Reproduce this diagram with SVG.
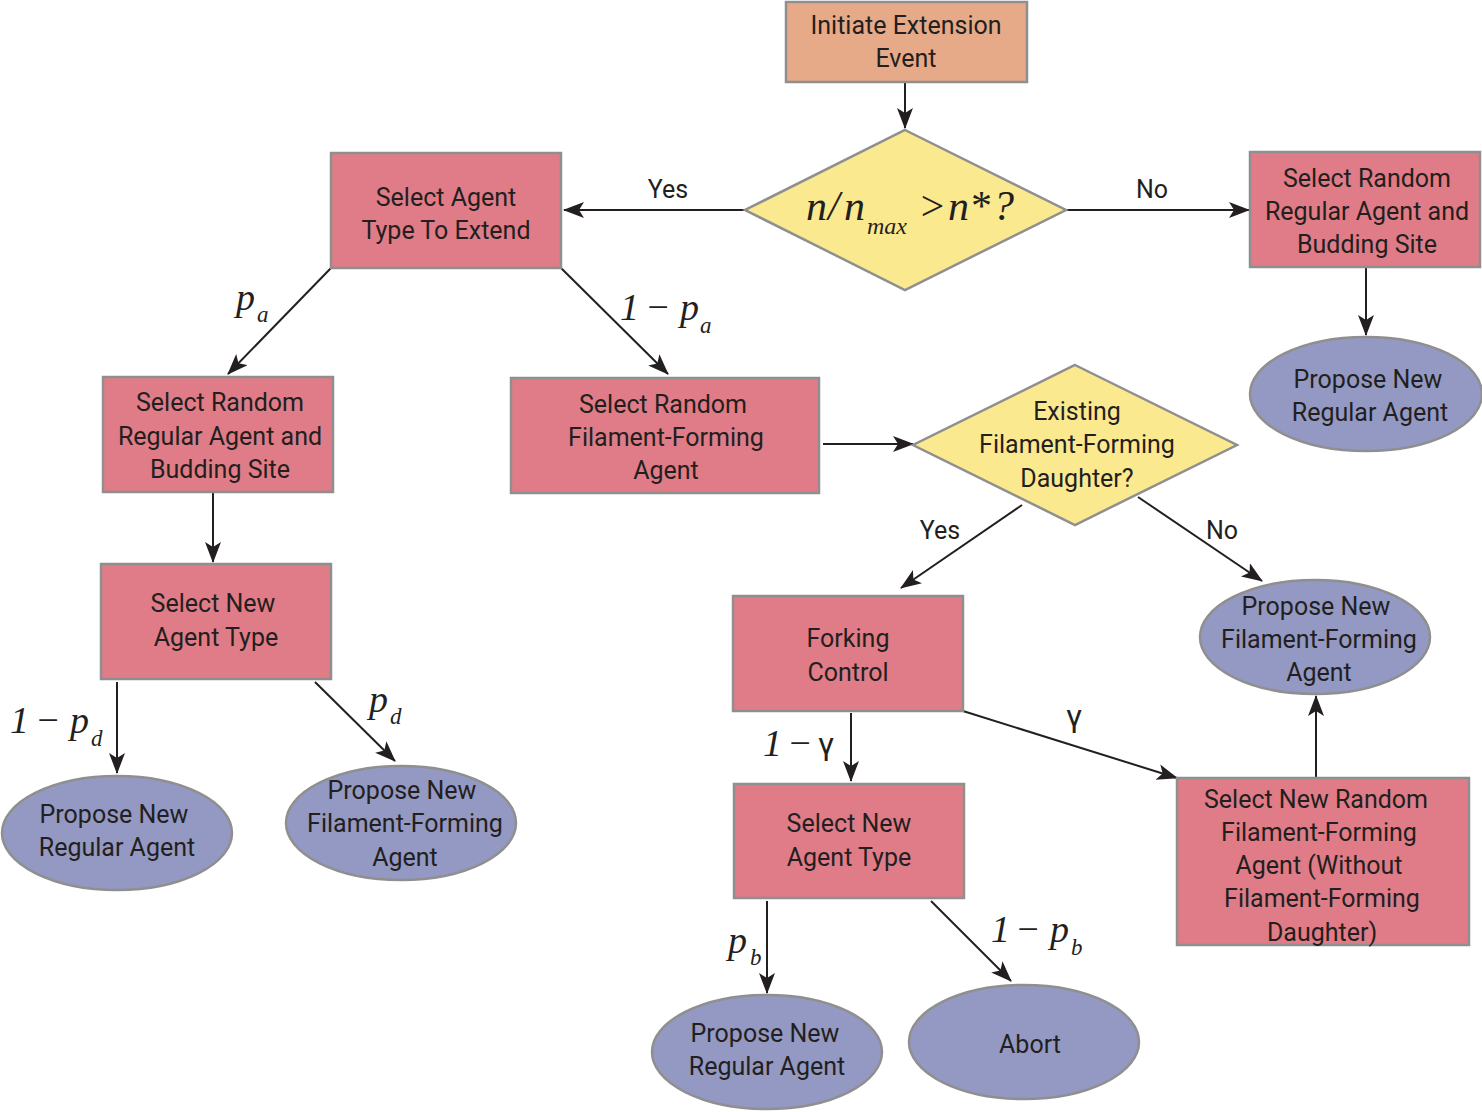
<svg xmlns="http://www.w3.org/2000/svg" width="1482" height="1112" viewBox="0 0 1482 1112">
<defs>
<marker id="ah" markerUnits="userSpaceOnUse" markerWidth="24" markerHeight="18" refX="20" refY="8" orient="auto">
<path d="M0,0 L21,8 L0,16 L5,8 z" fill="#231f20"/>
</marker>
<style>
.box{fill:#e07c87;stroke:#8f8f8f;stroke-width:2.5}
.start{fill:#e6aa88;stroke:#8f8f8f;stroke-width:2.5}
.dia{fill:#fbe98f;stroke:#8f8f8f;stroke-width:2.5}
.ell{fill:#9399c3;stroke:#8f8f8f;stroke-width:2.5}
.t{font-family:Roboto,"Liberation Sans",sans-serif;font-size:25px;fill:#231f20;text-anchor:middle}
.m{font-family:"Liberation Serif",serif;font-style:italic;fill:#231f20;font-size:38px}
.s{font-family:"Liberation Serif",serif;font-style:italic;fill:#231f20;font-size:23px}
.g{font-family:Roboto,"Liberation Sans",sans-serif;fill:#231f20;font-size:32px}
.c{fill:none;stroke:#231f20;stroke-width:2;marker-end:url(#ah)}
</style>
</defs>
<g id="connectors">
<line class="c" x1="905" y1="82" x2="905" y2="128"/>
<line class="c" x1="745" y1="210" x2="564" y2="210"/>
<line class="c" x1="1066" y1="210" x2="1249" y2="210"/>
<line class="c" x1="1366" y1="267" x2="1366" y2="335"/>
<line class="c" x1="331" y1="268" x2="228" y2="374"/>
<line class="c" x1="561" y1="268" x2="668" y2="374"/>
<line class="c" x1="213" y1="492" x2="213" y2="562"/>
<line class="c" x1="117" y1="682" x2="117" y2="773"/>
<line class="c" x1="315" y1="682" x2="395" y2="761"/>
<line class="c" x1="823" y1="444" x2="913" y2="444"/>
<line class="c" x1="1022" y1="505" x2="901" y2="588"/>
<line class="c" x1="1138" y1="497" x2="1262" y2="581"/>
<line class="c" x1="963" y1="711" x2="1177" y2="778"/>
<line class="c" x1="851" y1="713" x2="851" y2="781"/>
<line class="c" x1="1316" y1="778" x2="1316" y2="696"/>
<line class="c" x1="767" y1="901" x2="767" y2="993"/>
<line class="c" x1="931" y1="901" x2="1011" y2="981"/>
<text class="t" x="668" y="198">Yes</text>
<text class="t" x="1152" y="198">No</text>
<text class="t" x="940" y="539">Yes</text>
<text class="t" x="1222" y="539">No</text>
<text class="m" y="310"><tspan x="236">p</tspan></text><text class="s" x="257" y="322">a</text>
<text class="m" y="320"><tspan x="620">1</tspan><tspan x="645">−</tspan><tspan x="680">p</tspan></text><text class="s" x="700" y="333">a</text>
<text class="m" y="733"><tspan x="10">1</tspan><tspan x="35">−</tspan><tspan x="70">p</tspan></text><text class="s" x="91" y="746">d</text>
<text class="m" y="712"><tspan x="369">p</tspan></text><text class="s" x="390" y="724">d</text>
<text class="m" y="756"><tspan x="763">1</tspan><tspan x="787">−</tspan></text><text class="g" x="818" y="755">γ</text>
<text class="g" x="1066" y="727">γ</text>
<text class="m" y="953"><tspan x="728">p</tspan></text><text class="s" x="750" y="965">b</text>
<text class="m" y="942"><tspan x="991">1</tspan><tspan x="1015">−</tspan><tspan x="1050">p</tspan></text><text class="s" x="1071" y="955">b</text>
</g>
<g id="n-initiate">
<rect class="start" x="786" y="2" width="241" height="80"/>
<text class="t" x="906" y="34">Initiate Extension</text>
<text class="t" x="906" y="67">Event</text>
</g>
<g id="n-decision1">
<polygon class="dia" points="905,130 1066,210 905,290 745,210"/>
<text class="m" y="220" style="font-size:42px"><tspan x="806">n</tspan><tspan x="828">/</tspan><tspan x="844">n</tspan></text>
<text class="s" x="867" y="234" style="font-size:24px">max</text>
<text class="m" y="220" style="font-size:42px"><tspan x="918">&gt;</tspan><tspan x="948">n</tspan><tspan x="969">*</tspan><tspan x="993">?</tspan></text>
</g>
<g id="n-select-type">
<rect class="box" x="331" y="153" width="230" height="115"/>
<text class="t" x="446" y="206">Select Agent</text>
<text class="t" x="446" y="239">Type To Extend</text>
</g>
<g id="n-right-regular">
<rect class="box" x="1250" y="152" width="230" height="115"/>
<text class="t" x="1367" y="187">Select Random</text>
<text class="t" x="1367" y="220">Regular Agent and</text>
<text class="t" x="1367" y="253">Budding Site</text>
</g>
<g id="n-right-propose">
<ellipse class="ell" cx="1366" cy="394" rx="116" ry="57"/>
<text class="t" x="1368" y="388">Propose New</text>
<text class="t" x="1370" y="421">Regular Agent</text>
</g>
<g id="n-left-regular">
<rect class="box" x="103" y="377" width="230" height="115"/>
<text class="t" x="220" y="411">Select Random</text>
<text class="t" x="220" y="445">Regular Agent and</text>
<text class="t" x="220" y="478">Budding Site</text>
</g>
<g id="n-left-newtype">
<rect class="box" x="101" y="564" width="230" height="115"/>
<text class="t" x="213" y="612">Select New</text>
<text class="t" x="216" y="646">Agent Type</text>
</g>
<g id="n-left-propose-regular">
<ellipse class="ell" cx="117" cy="833" rx="115" ry="57"/>
<text class="t" x="114" y="823">Propose New</text>
<text class="t" x="117" y="856">Regular Agent</text>
</g>
<g id="n-left-propose-filament">
<ellipse class="ell" cx="401" cy="823" rx="115" ry="57"/>
<text class="t" x="402" y="799">Propose New</text>
<text class="t" x="405" y="832">Filament-Forming</text>
<text class="t" x="405" y="866">Agent</text>
</g>
<g id="n-filament">
<rect class="box" x="511" y="378" width="308" height="115"/>
<text class="t" x="663" y="413">Select Random</text>
<text class="t" x="666" y="446">Filament-Forming</text>
<text class="t" x="666" y="479">Agent</text>
</g>
<g id="n-decision2">
<polygon class="dia" points="1075,365 1237,445 1075,525 913,445"/>
<text class="t" x="1077" y="420">Existing</text>
<text class="t" x="1077" y="453">Filament-Forming</text>
<text class="t" x="1077" y="487">Daughter?</text>
</g>
<g id="n-forking">
<rect class="box" x="733" y="596" width="230" height="115"/>
<text class="t" x="848" y="647">Forking</text>
<text class="t" x="848" y="681">Control</text>
</g>
<g id="n-right-propose-filament">
<ellipse class="ell" cx="1315" cy="637" rx="115" ry="57"/>
<text class="t" x="1316" y="615">Propose New</text>
<text class="t" x="1319" y="648">Filament-Forming</text>
<text class="t" x="1319" y="681">Agent</text>
</g>
<g id="n-mid-newtype">
<rect class="box" x="734" y="784" width="230" height="114"/>
<text class="t" x="849" y="832">Select New</text>
<text class="t" x="849" y="866">Agent Type</text>
</g>
<g id="n-select-new-random">
<rect class="box" x="1177" y="778" width="292" height="167"/>
<text class="t" x="1316" y="808">Select New Random</text>
<text class="t" x="1319" y="841">Filament-Forming</text>
<text class="t" x="1319" y="874">Agent (Without</text>
<text class="t" x="1322" y="907">Filament-Forming</text>
<text class="t" x="1322" y="941">Daughter)</text>
</g>
<g id="n-bottom-propose">
<ellipse class="ell" cx="767" cy="1052" rx="115" ry="57"/>
<text class="t" x="765" y="1042">Propose New</text>
<text class="t" x="767" y="1075">Regular Agent</text>
</g>
<g id="n-abort">
<ellipse class="ell" cx="1024" cy="1042" rx="115" ry="57"/>
<text class="t" x="1030" y="1053">Abort</text>
</g>
</svg>
